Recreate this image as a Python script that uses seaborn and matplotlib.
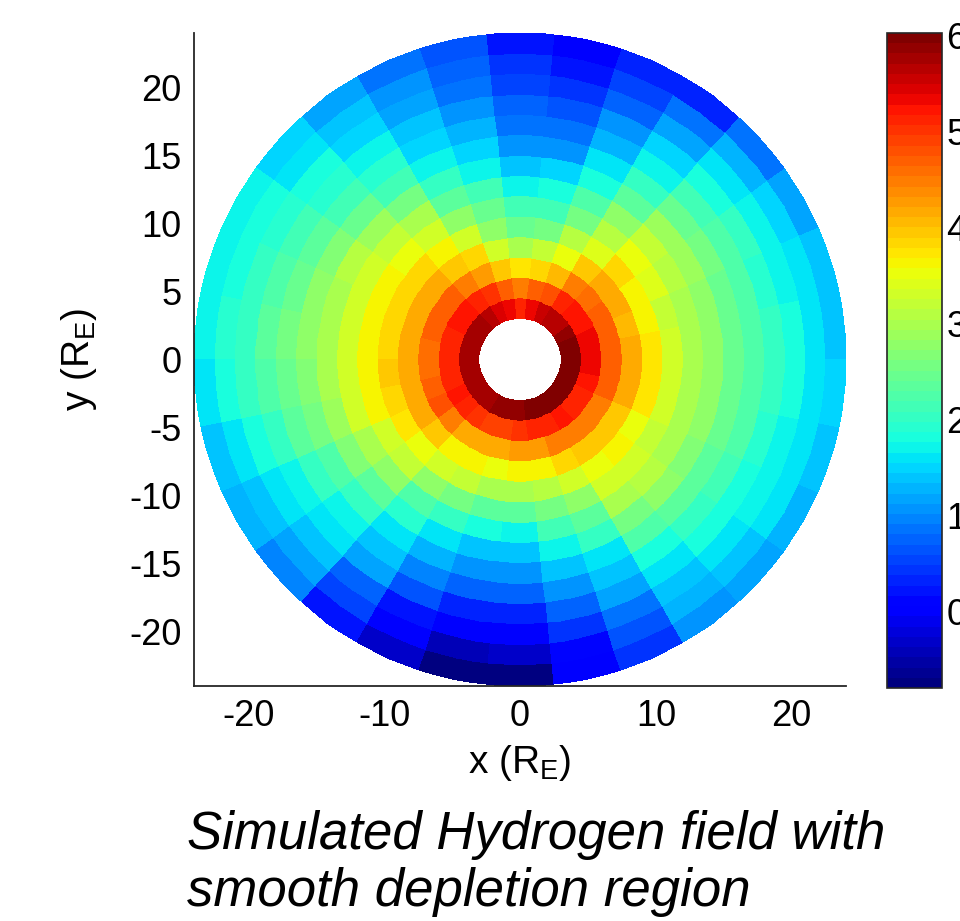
import numpy as np
import matplotlib
matplotlib.use("Agg")
import matplotlib.pyplot as plt
import seaborn as sns

# polar grid: 14 rings (r = 3 .. 24 R_E) x 30 sectors of 12 degrees
r_edges = np.arange(3.0, 24.01, 1.5)
sector_deg = 12

# values per sector (counter-clockwise from +x), inner ring -> outer ring
hydrogen = [
    [6.00, 5.30, 4.70, 4.20, 3.75, 3.30, 3.00, 2.75, 2.50, 2.25, 2.00, 1.80, 1.60, 1.40],
    [5.95, 5.30, 4.70, 4.05, 3.60, 3.25, 3.00, 2.75, 2.50, 2.25, 1.95, 1.70, 1.55, 1.35],
    [5.85, 5.25, 4.70, 4.20, 3.65, 3.40, 3.10, 2.85, 2.55, 2.25, 2.00, 1.70, 1.50, 1.20],
    [5.70, 5.25, 4.60, 4.15, 3.85, 3.55, 3.20, 2.85, 2.50, 2.15, 1.85, 1.55, 1.25, 0.90],
    [5.65, 5.10, 4.45, 3.95, 3.45, 3.10, 2.75, 2.35, 2.05, 1.75, 1.50, 1.20, 0.90, 0.35],
    [5.55, 4.75, 4.05, 3.55, 3.05, 2.60, 2.20, 1.80, 1.55, 1.30, 1.05, 0.80, 0.55, 0.35],
    [5.30, 4.70, 3.85, 3.20, 2.60, 2.15, 1.80, 1.45, 1.10, 0.85, 0.65, 0.40, 0.20, 0.00],
    [5.15, 4.45, 3.75, 3.00, 2.50, 2.15, 1.70, 1.40, 1.08, 0.90, 0.75, 0.55, 0.40, 0.25],
    [5.30, 4.65, 3.95, 3.30, 2.80, 2.45, 2.10, 1.75, 1.50, 1.25, 1.05, 0.85, 0.75, 0.60],
    [5.40, 5.00, 4.30, 3.80, 3.30, 2.80, 2.40, 2.05, 1.70, 1.50, 1.35, 1.15, 1.05, 0.90],
    [5.70, 5.10, 4.50, 4.00, 3.60, 3.30, 2.95, 2.55, 2.15, 1.95, 1.70, 1.50, 1.35, 1.15],
    [5.80, 5.20, 4.70, 4.20, 3.80, 3.50, 3.25, 2.85, 2.50, 2.15, 1.95, 1.80, 1.60, 1.50],
    [5.80, 5.20, 4.70, 4.20, 3.85, 3.60, 3.35, 3.05, 2.70, 2.40, 2.15, 1.95, 1.85, 1.70],
    [5.80, 5.15, 4.65, 4.15, 3.80, 3.60, 3.30, 3.00, 2.75, 2.50, 2.25, 2.00, 1.85, 1.75],
    [5.75, 5.15, 4.60, 4.20, 3.85, 3.60, 3.30, 3.00, 2.75, 2.55, 2.30, 2.05, 1.90, 1.75],
    [5.80, 5.10, 4.60, 4.20, 3.90, 3.60, 3.30, 2.95, 2.70, 2.45, 2.20, 2.00, 1.85, 1.65],
    [5.80, 5.15, 4.70, 4.20, 3.85, 3.60, 3.30, 2.90, 2.60, 2.35, 2.00, 1.80, 1.60, 1.40],
    [5.80, 5.20, 4.80, 4.20, 3.70, 3.35, 3.00, 2.65, 2.25, 2.00, 1.75, 1.60, 1.40, 1.25],
    [5.80, 5.10, 4.45, 3.90, 3.55, 3.25, 2.80, 2.40, 2.05, 1.75, 1.55, 1.35, 1.15, 0.95],
    [5.80, 5.00, 4.20, 3.60, 3.30, 2.75, 2.25, 1.95, 1.55, 1.35, 1.15, 0.75, 0.50, 0.20],
    [5.85, 4.95, 4.15, 3.60, 3.15, 2.55, 2.05, 1.60, 1.25, 0.95, 0.60, 0.25, -0.05, -0.35],
    [5.85, 4.95, 4.15, 3.50, 2.95, 2.35, 1.85, 1.40, 1.05, 0.70, 0.30, -0.05, -0.40, -0.75],
    [5.90, 5.00, 4.25, 3.65, 3.00, 2.35, 1.75, 1.40, 1.05, 0.70, 0.35, 0.00, -0.35, -0.70],
    [5.95, 5.10, 4.30, 3.60, 3.10, 2.60, 2.15, 1.70, 1.35, 1.05, 0.75, 0.40, 0.10, -0.05],
    [6.00, 5.15, 4.45, 3.85, 3.30, 2.80, 2.40, 2.00, 1.65, 1.35, 1.15, 0.90, 0.65, 0.45],
    [6.00, 5.20, 4.50, 4.00, 3.50, 3.30, 3.00, 2.60, 2.20, 1.85, 1.60, 1.40, 1.25, 1.05],
    [6.00, 5.10, 4.50, 4.00, 3.60, 3.35, 3.05, 2.75, 2.40, 2.05, 1.85, 1.60, 1.35, 1.15],
    [6.00, 5.10, 4.50, 4.00, 3.50, 3.25, 3.00, 2.65, 2.35, 2.10, 1.85, 1.70, 1.55, 1.30],
    [6.00, 5.20, 4.70, 4.15, 3.75, 3.30, 3.00, 2.75, 2.50, 2.20, 1.95, 1.70, 1.60, 1.40],
    [6.00, 5.30, 4.70, 4.20, 3.75, 3.30, 3.00, 2.75, 2.50, 2.25, 2.00, 1.80, 1.60, 1.45],
]

clim = (-0.8, 6.03)
cbar_ticks = [0, 1, 2, 3, 4, 5, 6]
x_ticks = [-20, -10, 0, 10, 20]
y_ticks = [-20, -15, -10, -5, 0, 5, 10, 15, 20]

sns.set_style("white")
plt.rcParams["font.family"] = ["Liberation Sans", "DejaVu Sans"]
plt.rcParams["mathtext.fontset"] = "custom"
plt.rcParams["mathtext.rm"] = "Liberation Sans"
plt.rcParams["axes.unicode_minus"] = False
plt.rcParams["text.color"] = "black"
plt.rcParams["axes.labelcolor"] = "black"

# subdivide each sector so the rings look round
sub = 4
n_sec = len(hydrogen)
theta = np.deg2rad(np.linspace(0, 360, n_sec * sub + 1))
R, T = np.meshgrid(r_edges, theta, indexing="ij")
X = R * np.cos(T)
Y = R * np.sin(T)
C = np.repeat(np.array(hydrogen).T, sub, axis=1)

cmap = matplotlib.colormaps["jet"].resampled(64)

fig = plt.figure(figsize=(9.6, 9.21), dpi=100)
ax = fig.add_axes([194 / 960, 1 - 686 / 921, 652 / 960, 653 / 921])
cax = fig.add_axes([887 / 960, 1 - 688 / 921, 55 / 960, 655 / 921])

mesh = ax.pcolormesh(X, Y, C, cmap=cmap, vmin=clim[0], vmax=clim[1],
                     shading="flat", antialiased=False, linewidth=0)

ax.set_xlim(-24, 24)
ax.set_ylim(-24, 24)
ax.set_xticks(x_ticks)
ax.set_yticks(y_ticks)
for s in ["top", "right"]:
    ax.spines[s].set_visible(False)
for s in ["left", "bottom"]:
    ax.spines[s].set_color("#262626")
    ax.spines[s].set_linewidth(1.3)
ax.tick_params(direction="in", length=7, width=1.2, color="#262626",
               labelsize=26, pad=9, labelcolor="black")
ax.set_xlabel(r"x (R$_\mathrm{E}$)", fontsize=28)
ax.set_ylabel(r"y (R$_\mathrm{E}$)", fontsize=28)
ax.xaxis.set_label_coords(0.5, -0.087)
ax.yaxis.set_label_coords(-0.145, 0.5)

cb = fig.colorbar(mesh, cax=cax, ticks=cbar_ticks)
cb.outline.set_linewidth(1.2)
cb.outline.set_edgecolor("#262626")
cax.tick_params(direction="in", length=6, width=1.2, color="#262626",
                left=True, right=True, labelsize=26, pad=3, labelcolor="black")

fig.text(187 / 960, 1 - 849 / 921, "Simulated Hydrogen field with",
         fontsize=38, style="italic", va="baseline", ha="left")
fig.text(187 / 960, 1 - 906 / 921, "smooth depletion region",
         fontsize=38, style="italic", va="baseline", ha="left")

fig.savefig("out.png", dpi=100)
